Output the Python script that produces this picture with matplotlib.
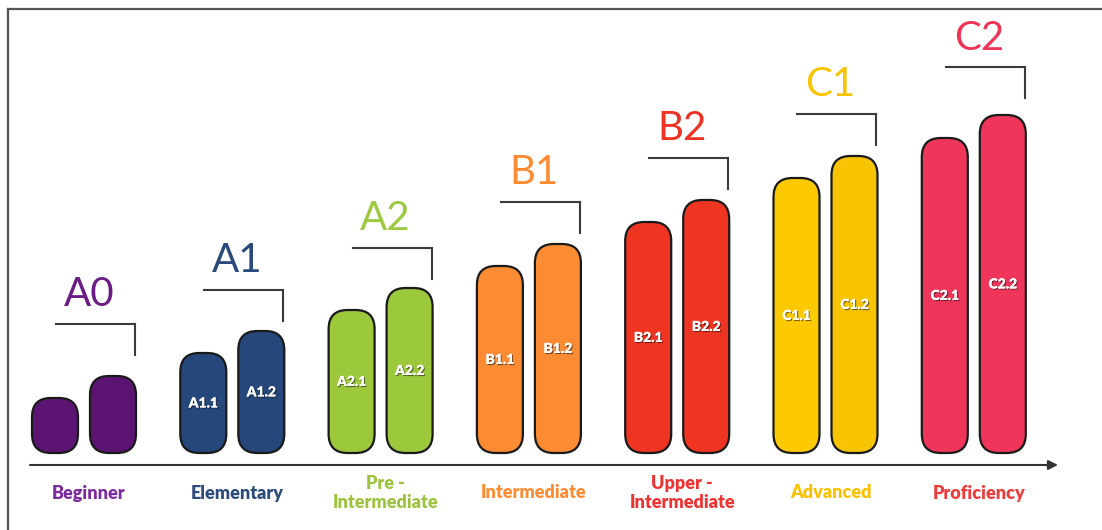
import numpy as np
import matplotlib
matplotlib.use('Agg')
import matplotlib.pyplot as plt
from matplotlib.patches import FancyBboxPatch
from matplotlib.lines import Line2D
import matplotlib.patheffects as pe

levels = ['A0', 'A1', 'A2', 'B1', 'B2', 'C1', 'C2']
names = ['Beginner', 'Elementary', 'Pre -\nIntermediate', 'Intermediate',
         'Upper -\nIntermediate', 'Advanced', 'Proficiency']
sub_labels = [('', ''), ('A1.1', 'A1.2'), ('A2.1', 'A2.2'), ('B1.1', 'B1.2'),
              ('B2.1', 'B2.2'), ('C1.1', 'C1.2'), ('C2.1', 'C2.2')]
low_vals = [5.5, 10.0, 14.3, 18.7, 23.1, 27.5, 31.5]
high_vals = [7.7, 12.2, 16.5, 20.9, 25.3, 29.7, 33.8]
bracket_vals = [12.9, 16.3, 20.5, 25.1, 29.5, 33.9, 38.6]

bar_colors = [('#5c1473', '#5c1473'), ('#26477a', '#26477a'), ('#9cc83c', '#9cc83c'),
              ('#fb8c34', '#fb8c34'), ('#ef3522', '#ef3522'), ('#fdc900', '#f8c300'),
              ('#ef365a', '#ef365a')]
level_colors = ['#6a1b86', '#2a4a7b', '#9dc941', '#fb8c34', '#ee3325', '#f8c400', '#ee3558']
name_colors = ['#7b2c9e', '#2d4c7c', '#9dc33f', '#fb8c34', '#ee3333', '#fbc000', '#ee3b3b']

# pixel scale of the axes: 148.3 px per group, 10 px per value unit
px_x = 148.3
px_y = 10.0
W, H = 11.02, 5.30

fig = plt.figure(figsize=(W, H), dpi=100)
ax = fig.add_axes([0, 0, 1, 1])
ax.set_xlim(-84/px_x, (1102-84)/px_x)
ax.set_ylim(-77/px_y, 453/px_y)
ax.axis('off')

bw = 46/px_x
off = 29/px_x
rad = 19/px_x
aspect = px_x/px_y

for i in range(len(levels)):
    for j, (v, c, lab) in enumerate(zip((low_vals[i], high_vals[i]), bar_colors[i], sub_labels[i])):
        xc = i + (off if j else -off)
        box = FancyBboxPatch((xc - bw/2, 0), bw, v,
                             boxstyle='round,pad=0,rounding_size=%f' % rad,
                             mutation_aspect=aspect, fc=c, ec='#1a1a1a', lw=1.6)
        ax.add_patch(box)
        if lab:
            ax.text(xc, v/2, lab, ha='center', va='center', color='white',
                    fontsize=10, fontweight='heavy', family='Lato',
                    path_effects=[pe.withSimplePatchShadow(offset=(0.8, -0.8), shadow_rgbFace='black', alpha=0.5),
                                  pe.Normal()])
    # bracket
    b = bracket_vals[i]
    x0 = i - 28/px_x
    x1 = i + off + bw/2 - 1/px_x
    ax.plot([x0, x1, x1], [b, b, b - 31/px_y], color='#3a3a3a', lw=1.5, solid_joinstyle='miter')
    ax.text(i + 5/px_x, b + 29/px_y, levels[i], ha='center', va='center',
            color=level_colors[i], fontsize=29, family='Lato')
    ax.text(i + 5/px_x, -40/px_y, names[i], ha='center', va='center',
            color=name_colors[i], fontsize=13, fontweight='heavy', family='Lato',
            linespacing=1.15)

# axis arrow
ax.annotate('', xy=(1058/px_x - 84/px_x, -12/px_y), xytext=(30/px_x - 84/px_x, -12/px_y),
            arrowprops=dict(arrowstyle='-|>', color='#333333', lw=1.5,
                            mutation_scale=14, shrinkA=0, shrinkB=0))

# frame lines top and left
fig.add_artist(Line2D([8/1102, 8/1102], [0, 1 - 9/530], color='#555555', lw=1.6))
fig.add_artist(Line2D([8/1102, 1], [1 - 9/530, 1 - 9/530], color='#555555', lw=1.6))

fig.savefig('out.png', dpi=100)
